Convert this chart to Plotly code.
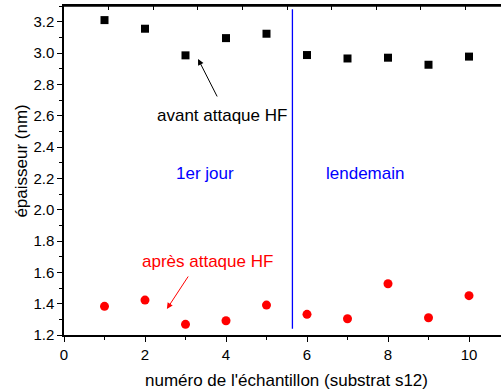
import plotly.graph_objects as go

# ---- data ----
samples = [1, 2, 3, 4, 5, 6, 7, 8, 9, 10]
before_hf = [3.21, 3.155, 2.985, 3.095, 3.123, 2.987, 2.965, 2.97, 2.925, 2.977]
after_hf = [1.383, 1.423, 1.268, 1.291, 1.391, 1.332, 1.304, 1.527, 1.310, 1.451]
day_split_x = 5.64
x_title = "numéro de l'échantillon (substrat s12)"
y_title = "épaisseur (nm)"
label_before = "avant attaque HF"
label_after = "après attaque HF"
label_day1 = "1er jour"
label_day2 = "lendemain"

FONT = "Liberation Sans, Arial, sans-serif"

fig = go.Figure()
fig.add_trace(go.Scatter(x=samples, y=before_hf, mode="markers",
                         marker=dict(symbol="square", size=8, color="black"),
                         showlegend=False))
fig.add_trace(go.Scatter(x=samples, y=after_hf, mode="markers",
                         marker=dict(symbol="circle", size=9, color="#ff0000"),
                         showlegend=False))
# invisible helper trace so the top axis gets drawn
fig.add_trace(go.Scatter(x=samples, y=before_hf, xaxis="x2", yaxis="y",
                         mode="markers", marker=dict(opacity=0),
                         hoverinfo="skip", showlegend=False))

fig.add_shape(type="line", xref="x", yref="y", x0=day_split_x, x1=day_split_x,
              y0=1.24, y1=3.28, line=dict(color="#0000ff", width=1.3))
# top frame line
fig.add_shape(type="line", xref="paper", yref="paper", x0=0, x1=1, y0=1, y1=1,
              line=dict(color="black", width=1.5), layer="above")

annos = [
    dict(x=3.90, y=2.604, text=label_before, showarrow=False,
         font=dict(size=17, color="black")),
    dict(x=3.47, y=2.234, text=label_day1, showarrow=False,
         font=dict(size=17, color="#0000ff")),
    dict(x=7.43, y=2.234, text=label_day2, showarrow=False,
         font=dict(size=17, color="#0000ff")),
    dict(x=3.54, y=1.668, text=label_after, showarrow=False,
         font=dict(size=17, color="#ff0000")),
    dict(x=3.31, y=2.962, ax=3.80, ay=2.713, axref="x", ayref="y", text="",
         showarrow=True, arrowhead=2, arrowsize=1.2, arrowwidth=1, arrowcolor="black"),
    dict(x=2.54, y=1.366, ax=3.09, ay=1.583, axref="x", ayref="y", text="",
         showarrow=True, arrowhead=2, arrowsize=1.2, arrowwidth=1, arrowcolor="#ff0000"),
    dict(xref="paper", yref="paper", x=0.510, y=0, yshift=-45, yanchor="middle",
         text=x_title, showarrow=False, font=dict(size=17, color="black")),
    dict(xref="paper", yref="paper", x=0, xshift=-42, y=0.527, xanchor="center",
         yanchor="middle", textangle=-90, text=y_title, showarrow=False,
         font=dict(size=17, color="black")),
]
for a in annos:
    fig.add_annotation(**a)

fig.update_layout(
    width=501, height=392,
    margin=dict(l=64, r=0, t=6, b=57),
    paper_bgcolor="white", plot_bgcolor="white",
    font=dict(family=FONT, size=15, color="black"),
    hovermode=False,
    xaxis=dict(range=[0, (501 - 64) / 40.5], showgrid=False, zeroline=False,
               showline=True, linecolor="black", linewidth=1.5,
               tick0=0, dtick=2, ticks="outside", ticklen=5, tickwidth=1.2,
               tickcolor="black", tickfont=dict(size=15),
               minor=dict(dtick=1, ticks="outside", ticklen=3, tickwidth=1.2,
                          tickcolor="black", showgrid=False)),
    xaxis2=dict(overlaying="x", side="top", anchor="y", range=[0, (501 - 64) / 44.6],
                showgrid=False, zeroline=False, showline=True, linecolor="black",
                linewidth=1.5, tick0=0, dtick=1, ticks="inside", ticklen=4,
                tickwidth=1.2, tickcolor="black", showticklabels=False),
    yaxis=dict(range=[1.2, 3.3], showgrid=False, zeroline=False,
               showline=True, linecolor="black", linewidth=1.5,
               tick0=1.2, dtick=0.2, tickformat=".1f", ticks="outside", ticklen=5,
               tickwidth=1.2, tickcolor="black", tickfont=dict(size=15),
               minor=dict(dtick=0.1, ticks="outside", ticklen=3, tickwidth=1.2,
                          tickcolor="black", showgrid=False)),
)

fig.write_html("out.html", config={"displayModeBar": False},
               post_script="document.body.style.margin='0';document.body.style.overflow='hidden';")
